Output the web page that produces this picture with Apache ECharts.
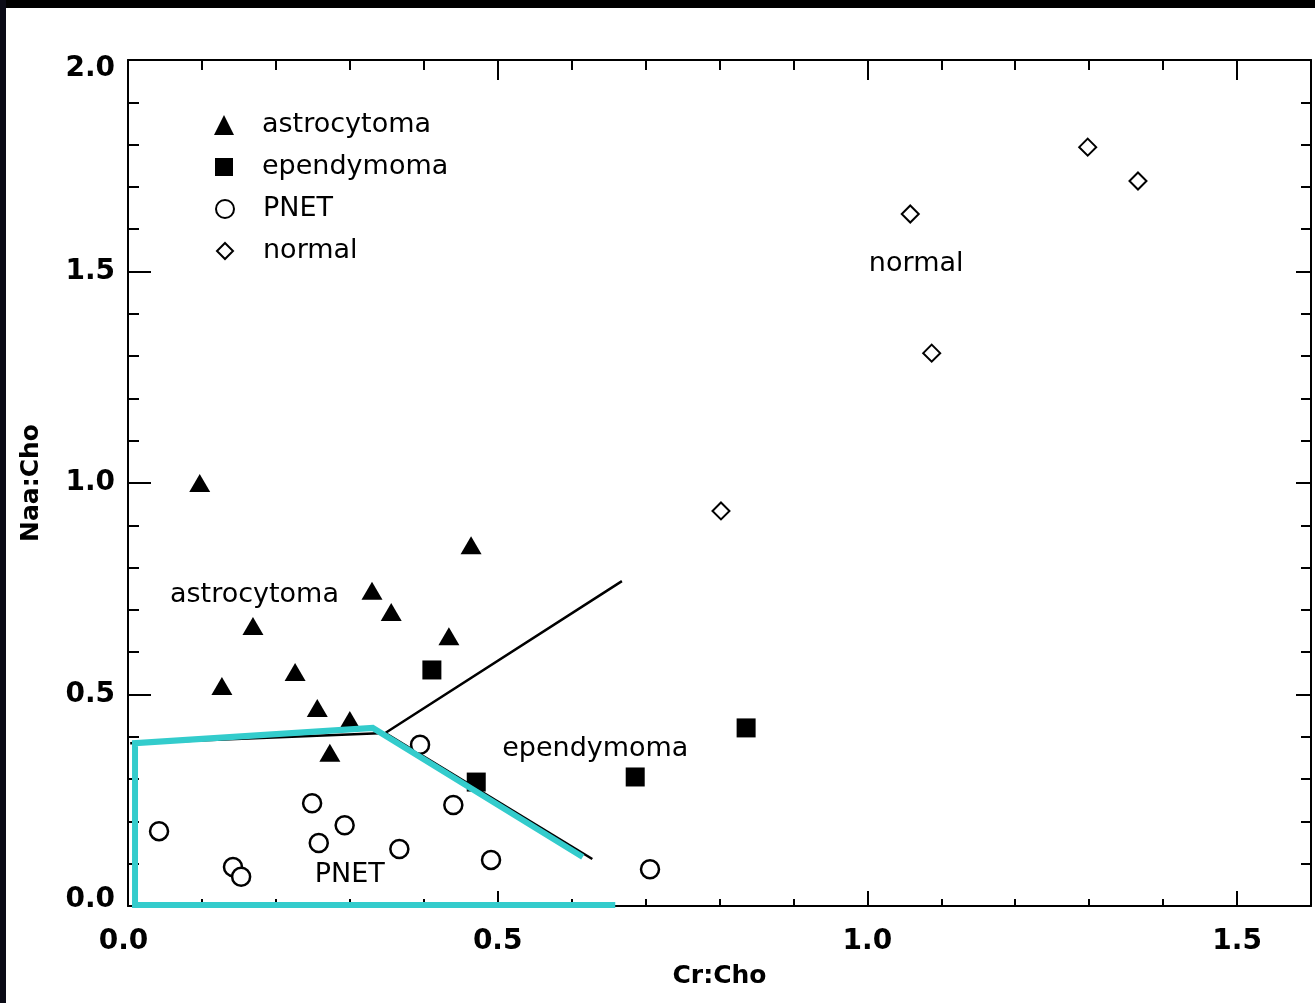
<!DOCTYPE html>
<html>
<head>
<meta charset="utf-8">
<title>Naa:Cho vs Cr:Cho</title>
<script src="https://cdn.jsdelivr.net/npm/echarts@6/dist/echarts.min.js"></script>
<style>
  html, body { margin: 0; padding: 0; background: #fff; }
  #chart { width: 1315px; height: 1003px; }
</style>
</head>
<body>
<div id="chart"></div>
<script>
// Metabolite ratios per tumour type: [Cr:Cho, Naa:Cho]
const astrocytoma = [
  [0.097, 1.000], [0.464, 0.853], [0.330, 0.745], [0.356, 0.695],
  [0.169, 0.662], [0.434, 0.638], [0.226, 0.553], [0.127, 0.520],
  [0.256, 0.468], [0.300, 0.440], [0.273, 0.362]
];
const ependymoma = [
  [0.411, 0.558], [0.836, 0.421], [0.471, 0.293], [0.686, 0.305]
];
const pnet = [
  [0.395, 0.381], [0.249, 0.243], [0.440, 0.239], [0.042, 0.177],
  [0.293, 0.191], [0.258, 0.149], [0.367, 0.135], [0.491, 0.109],
  [0.142, 0.092], [0.153, 0.069], [0.706, 0.087]
];
const normal = [
  [1.298, 1.794], [1.366, 1.714], [1.058, 1.636], [1.087, 1.307], [0.802, 0.934]
];

// Decision boundaries between the tumour groups
const boundaryUpper = [[0.003, 0.385], [0.348, 0.409], [0.668, 0.768]];
const boundaryLower = [[0.348, 0.409], [0.628, 0.111]];
// Highlighted PNET region outline
const pnetRegion = [[0.615, 0.116], [0.331, 0.421], [0.0095, 0.385], [0.0095, 0.0024], [0.659, 0.0024]];

// Group names written inside the plot, anchored in data coordinates
const regionLabels = [
  { name: 'astrocytoma', value: [0.171, 0.735] },
  { name: 'ependymoma', value: [0.632, 0.371] },
  { name: 'PNET', value: [0.300, 0.073] },
  { name: 'normal', value: [1.066, 1.518] }
];

const xMin = 0, xMax = 1.6, yMin = 0, yMax = 2.0;
const majorStep = 0.5, minorStep = 0.1;

const FONT = 'DejaVu Sans';
const chart = echarts.init(document.getElementById('chart'), null, { renderer: 'canvas' });

const tickFont = { fontFamily: FONT, fontWeight: 'bold', fontSize: 28, color: '#000' };

function xAxisDef(position, interval, tickLen, withLabels, withLine) {
  return {
    type: 'value', position: position, min: xMin, max: xMax, interval: interval,
    axisLine: { show: withLine, onZero: false, lineStyle: { color: '#000', width: 2 } },
    axisTick: { show: true, inside: true, length: tickLen, lineStyle: { color: '#000', width: 2 } },
    axisLabel: Object.assign({
      show: withLabels, margin: 22, showMaxLabel: false,
      // the origin label sits slightly left of its tick
      formatter: v => v === xMin ? '{first|' + v.toFixed(1) + '}' : v.toFixed(1),
      rich: { first: Object.assign({ padding: [0, 9, 0, 0] }, tickFont) }
    }, tickFont),
    splitLine: { show: false },
    name: withLabels ? 'Cr:Cho' : '',
    nameLocation: 'middle', nameGap: 58,
    nameTextStyle: { fontFamily: FONT, fontWeight: 'bold', fontSize: 25, color: '#000' }
  };
}

function yAxisDef(position, majorLen, minorLen, withLabels) {
  return {
    type: 'value', position: position, min: yMin, max: yMax, interval: majorStep,
    axisLine: { show: true, onZero: false, lineStyle: { color: '#000', width: 2 } },
    axisTick: { show: true, inside: true, length: majorLen, lineStyle: { color: '#000', width: 2 } },
    minorTick: { show: true, splitNumber: Math.round(majorStep / minorStep), length: minorLen, lineStyle: { color: '#000', width: 2 } },
    axisLabel: Object.assign({
      show: withLabels, margin: 13,
      // end labels are nudged inward so they stay beside the frame
      formatter: v => {
        const s = v.toFixed(1);
        if (v === yMax) return '{top|' + s + '}';
        if (v === yMin) return '{bottom|' + s + '}';
        return s;
      },
      rich: {
        top: Object.assign({ padding: [18, 0, 0, 0] }, tickFont),
        bottom: Object.assign({ padding: [0, 0, 12, 0] }, tickFont)
      }
    }, tickFont),
    splitLine: { show: false },
    name: withLabels ? 'Naa:Cho' : '',
    nameLocation: 'middle', nameGap: 84, nameRotate: 90,
    nameTextStyle: { fontFamily: FONT, fontWeight: 'bold', fontSize: 25, color: '#000' }
  };
}

// One legend per entry so each icon keeps its own size; icons centred at x=224, text from x=262
function legendDef(name, centerY, iconSize) {
  const iconLeft = 224 - iconSize / 2;
  return {
    left: iconLeft, top: centerY - 14, padding: 0,
    itemWidth: iconSize, itemHeight: iconSize,
    selectedMode: false,
    data: [name],
    textStyle: {
      fontFamily: FONT, fontSize: 27, lineHeight: 28, color: '#000',
      padding: [0, 0, 0, 262 - (iconLeft + iconSize + 5)]
    }
  };
}

const scatterBase = { type: 'scatter', xAxisIndex: 0, yAxisIndex: 0, emphasis: { disabled: true }, z: 3 };

const option = {
  animation: false,
  backgroundColor: '#fff',
  grid: { left: 128, right: 4, top: 60, bottom: 97 },
  xAxis: [
    xAxisDef('bottom', majorStep, 15, true, true),
    xAxisDef('bottom', minorStep, 7, false, false),
    xAxisDef('top', majorStep, 20, false, true),
    xAxisDef('top', minorStep, 10, false, false)
  ],
  yAxis: [
    yAxisDef('left', 23, 11, true),
    yAxisDef('right', 15, 10, false)
  ],
  legend: [
    legendDef('astrocytoma', 125, 20),
    legendDef('ependymoma', 167, 18),
    legendDef('PNET', 209, 18),
    legendDef('normal', 251, 16)
  ],
  graphic: [
    { type: 'rect', left: 0, top: 0, shape: { width: 1315, height: 8 }, style: { fill: '#000' }, z: 100 },
    { type: 'rect', left: 0, top: 0, shape: { width: 6, height: 1003 }, style: { fill: '#0b0b16' }, z: 100 }
  ],
  series: [
    {
      type: 'line', xAxisIndex: 0, yAxisIndex: 0, data: boundaryUpper, symbol: 'none', silent: true,
      lineStyle: { color: '#000', width: 2.5 }, z: 2
    },
    {
      type: 'line', xAxisIndex: 0, yAxisIndex: 0, data: boundaryLower, symbol: 'none', silent: true,
      lineStyle: { color: '#000', width: 2.5 }, z: 2
    },
    Object.assign({}, scatterBase, {
      name: 'astrocytoma', data: astrocytoma, symbol: 'triangle', symbolSize: [21, 18],
      itemStyle: { color: '#000', opacity: 1 }
    }),
    Object.assign({}, scatterBase, {
      name: 'ependymoma', data: ependymoma, symbol: 'rect', symbolSize: 19,
      itemStyle: { color: '#000', opacity: 1 }
    }),
    Object.assign({}, scatterBase, {
      name: 'PNET', data: pnet, symbol: 'circle', symbolSize: 18,
      itemStyle: { color: '#fff', borderColor: '#000', borderWidth: 2.5, opacity: 1 }
    }),
    Object.assign({}, scatterBase, {
      name: 'normal', data: normal, symbol: 'diamond', symbolSize: [17, 17],
      itemStyle: { color: '#fff', borderColor: '#000', borderWidth: 2, opacity: 1 }
    }),
    {
      type: 'scatter', xAxisIndex: 0, yAxisIndex: 0, data: regionLabels, symbolSize: 0, silent: true,
      itemStyle: { opacity: 1 },
      label: {
        show: true, position: 'inside', formatter: '{b}',
        fontFamily: FONT, fontSize: 27, color: '#000', opacity: 1
      },
      z: 4
    },
    {
      type: 'line', xAxisIndex: 0, yAxisIndex: 0, data: pnetRegion, symbol: 'none', silent: true,
      lineStyle: { color: '#33cccc', width: 6, join: 'miter', cap: 'butt' }, z: 10
    }
  ]
};

chart.setOption(option);
</script>
</body>
</html>
